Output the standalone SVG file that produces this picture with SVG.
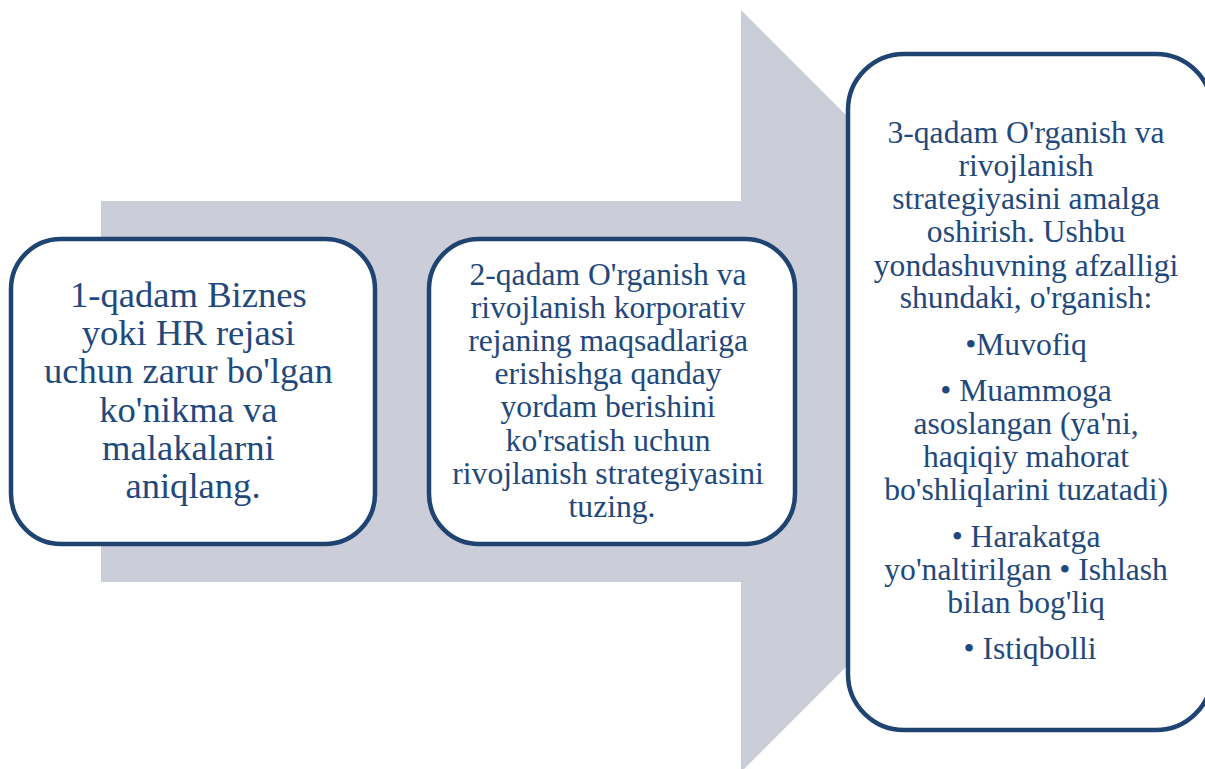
<svg xmlns="http://www.w3.org/2000/svg" width="1205" height="769" viewBox="0 0 1205 769">
<style>
.box{fill:#ffffff;stroke:#1f4472;stroke-width:4.5}
.t{font-family:"Liberation Serif","Times New Roman",serif;fill:#1f497d;text-anchor:middle}
.t1{font-size:36.6px}
.t2{font-size:31.6px}
</style>
<rect width="1205" height="769" fill="#ffffff"/>
<g id="connectors">
<polygon points="101,201 741,201 741,10 1122,391 741,772 741,582 101,582" fill="#cbced8"/>
</g>
<g id="step1">
<rect class="box" x="11" y="239" width="364" height="305" rx="50" ry="50"/>
<text class="t t1" x="193">
<tspan x="193" y="307">1-qadam Biznes</tspan>
<tspan x="193" y="345.2">yoki HR rejasi</tspan>
<tspan x="193" y="383.4">uchun zarur bo'lgan</tspan>
<tspan x="193" y="421.6">ko'nikma va</tspan>
<tspan x="193" y="459.8">malakalarni</tspan>
<tspan x="193" y="498">aniqlang.</tspan>
</text>
</g>
<g id="step2">
<rect class="box" x="429" y="239" width="366" height="305" rx="50" ry="50"/>
<text class="t t2" x="612">
<tspan x="612" y="285">2-qadam O'rganish va</tspan>
<tspan x="612" y="318.1">rivojlanish korporativ</tspan>
<tspan x="612" y="351.2">rejaning maqsadlariga</tspan>
<tspan x="612" y="384.3">erishishga qanday</tspan>
<tspan x="612" y="417.4">yordam berishini</tspan>
<tspan x="612" y="450.5">ko'rsatish uchun</tspan>
<tspan x="612" y="483.6">rivojlanish strategiyasini</tspan>
<tspan x="612" y="516.7">tuzing.</tspan>
</text>
</g>
<g id="step3">
<rect class="box" x="848" y="54" width="364" height="676" rx="56" ry="56"/>
<text class="t t2" x="1030">
<tspan x="1030" y="143">3-qadam O'rganish va</tspan>
<tspan x="1030" y="176">rivojlanish</tspan>
<tspan x="1030" y="209">strategiyasini amalga</tspan>
<tspan x="1030" y="242">oshirish. Ushbu</tspan>
<tspan x="1030" y="275.5">yondashuvning afzalligi</tspan>
<tspan x="1030" y="308">shundaki, o'rganish:</tspan>
<tspan x="1030" y="355">•Muvofiq</tspan>
<tspan x="1030" y="401">• Muammoga</tspan>
<tspan x="1030" y="434">asoslangan (ya'ni,</tspan>
<tspan x="1030" y="467">haqiqiy mahorat</tspan>
<tspan x="1030" y="500">bo'shliqlarini tuzatadi)</tspan>
<tspan x="1030" y="547">• Harakatga</tspan>
<tspan x="1030" y="580">yo'naltirilgan • Ishlash</tspan>
<tspan x="1030" y="612.5">bilan bog'liq</tspan>
<tspan x="1030" y="659">• Istiqbolli</tspan>
</text>
</g>
</svg>
